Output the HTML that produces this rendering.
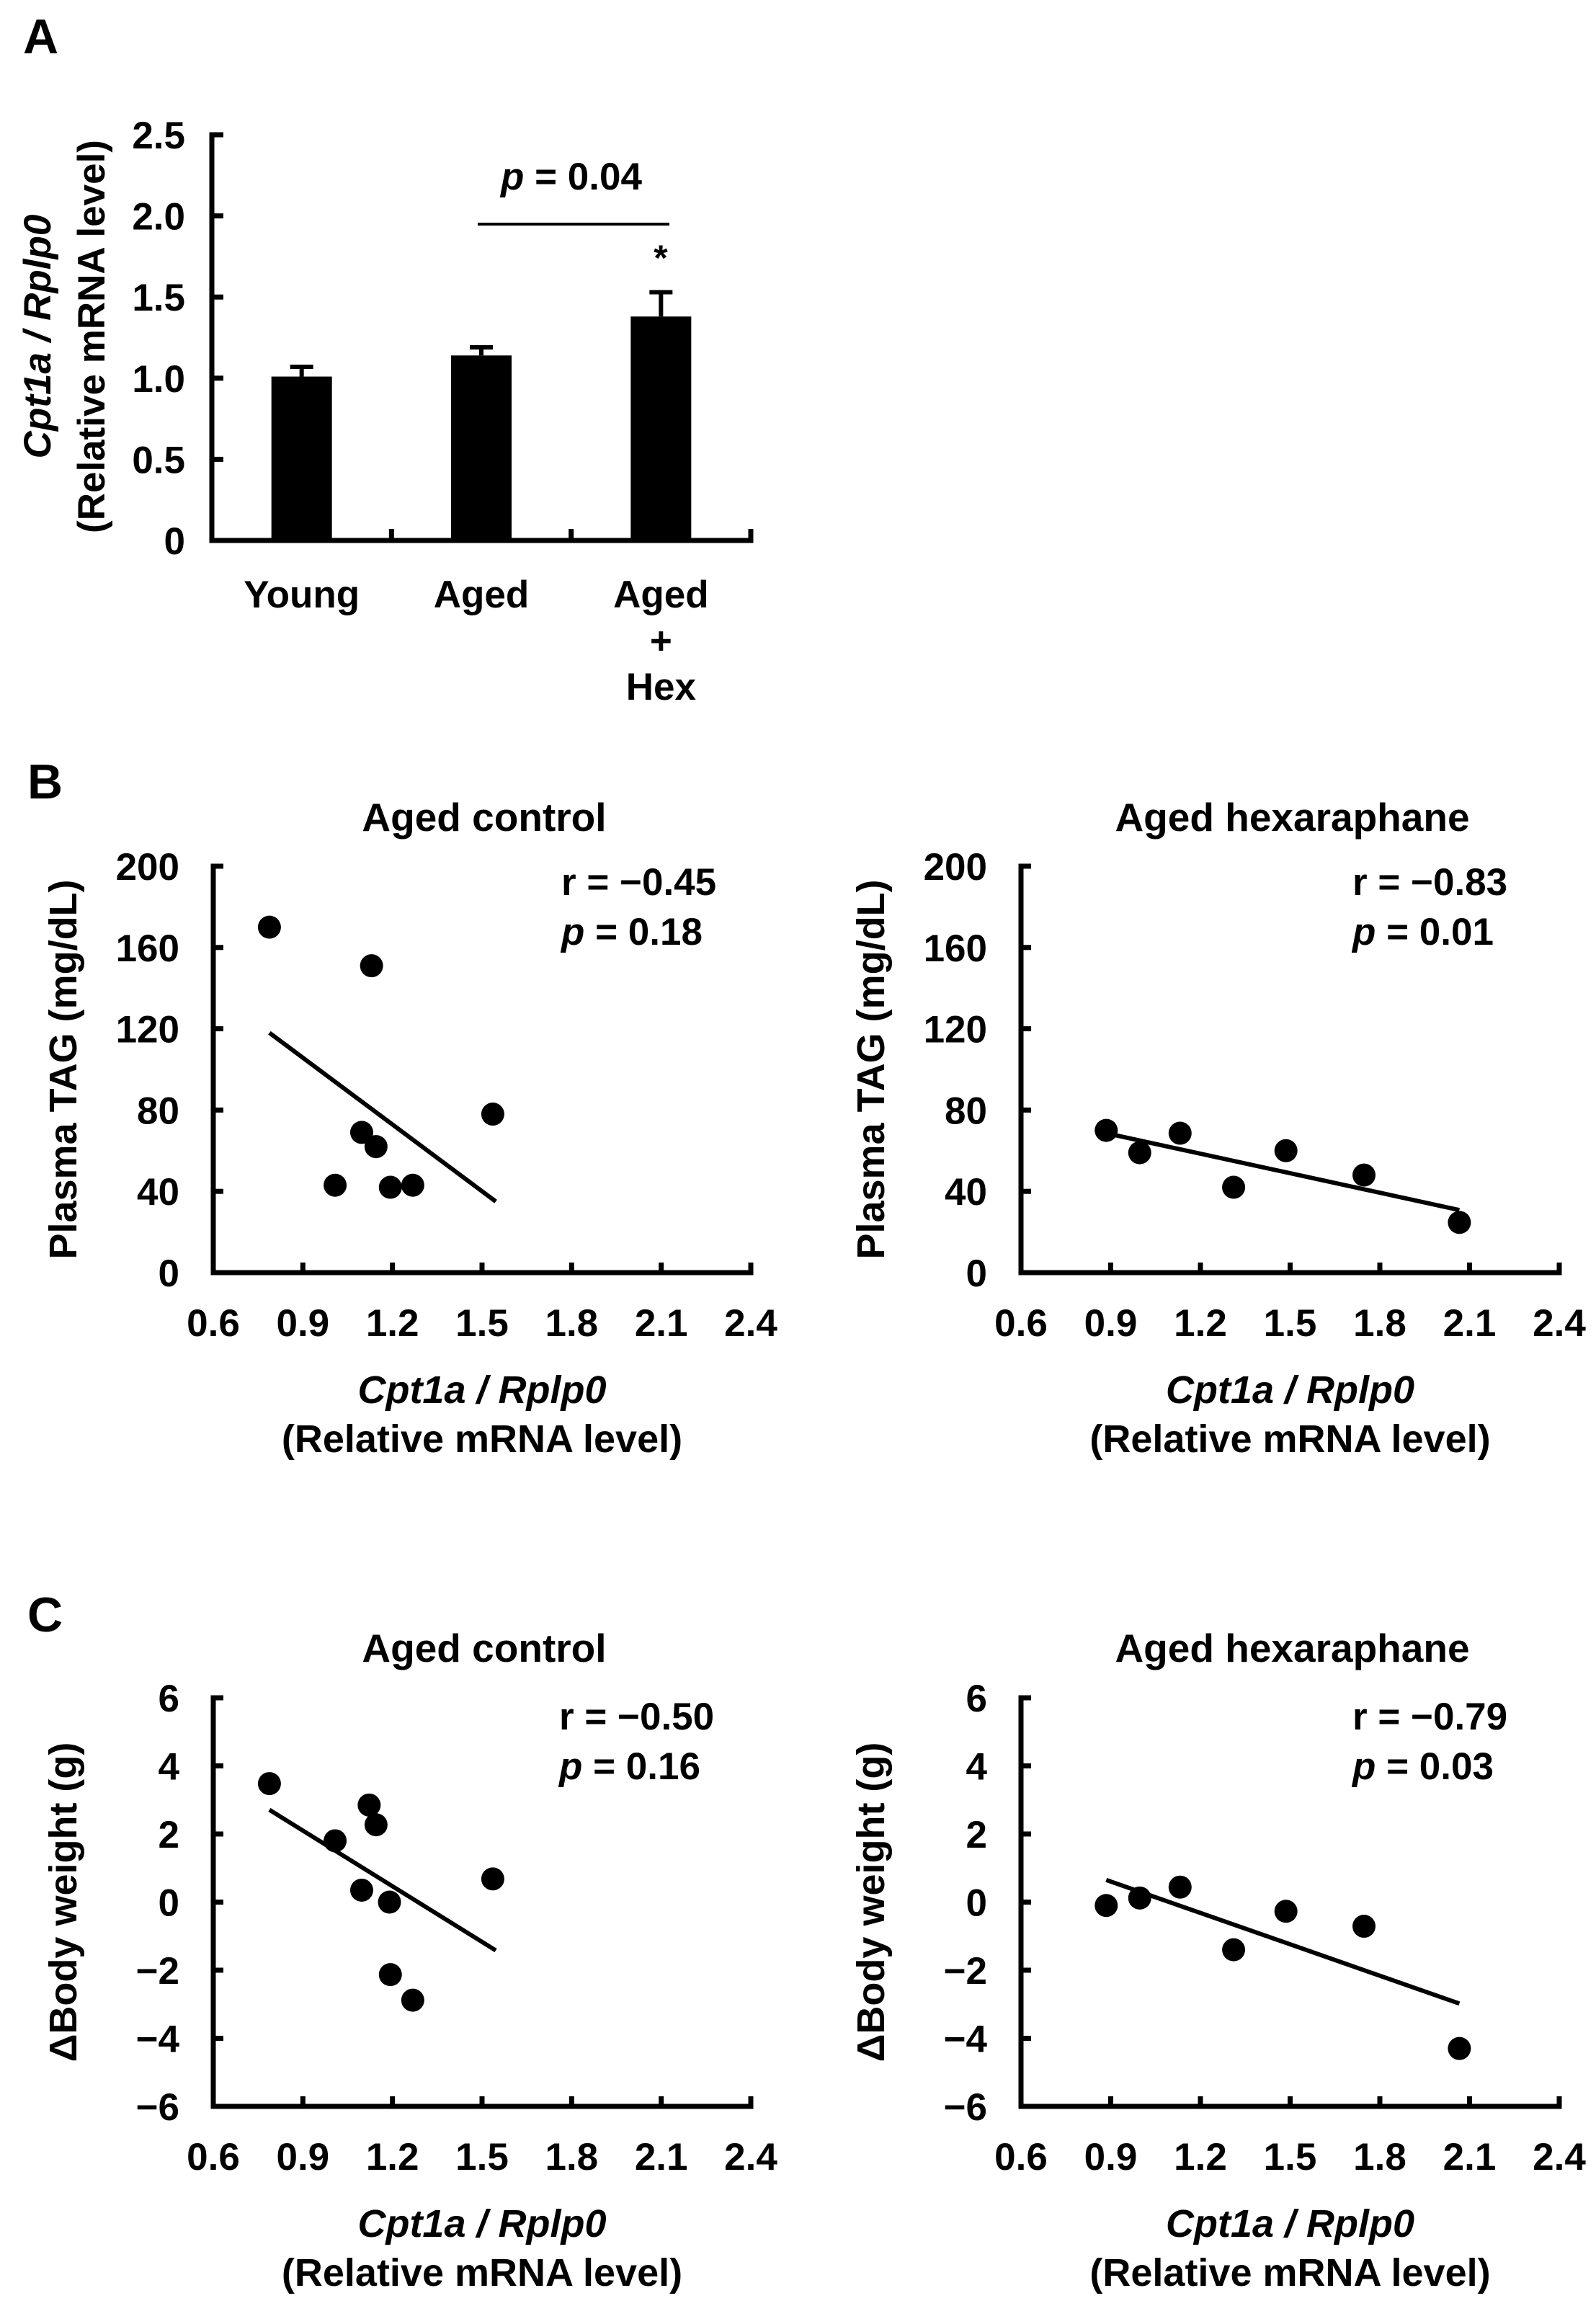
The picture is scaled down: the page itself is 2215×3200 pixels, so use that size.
<!DOCTYPE html>
<html><head><meta charset="utf-8"><style>
html,body{margin:0;padding:0;background:#fff}
svg{display:block}
text{font-family:"Liberation Sans",Arial,sans-serif;font-weight:bold;fill:#000}
</style></head><body>
<svg id="fig" width="2215" height="3200" viewBox="0 0 2215 3200" xmlns="http://www.w3.org/2000/svg">
<text x="32" y="74" font-size="68">A</text>
<text x="38" y="1108" font-size="68">B</text>
<text x="38" y="2264" font-size="68">C</text>
</svg>
<script>
// ---------- Panel A data ----------
const barCategories = ["Young", "Aged", "Aged+Hex"];
const barValues = [1.01, 1.14, 1.38];
const barErrors = [0.06, 0.05, 0.15];
const barTicks = ["0", "0.5", "1.0", "1.5", "2.0", "2.5"];

// ---------- Panel B data ----------
const bCtrlX = [0.788, 1.13, 1.097, 1.145, 1.008, 1.193, 1.268, 1.536];
const bCtrlY = [170, 151, 69, 62, 43, 42, 43, 78];
const bCtrlFit = [0.788, 118, 1.546, 35];
const bHexX = [0.885, 0.997, 1.132, 1.311, 1.486, 1.747, 2.066];
const bHexY = [70, 59, 68.6, 42, 60, 48, 24.7];
const bHexFit = [0.885, 68.6, 2.066, 30.8];
const bYTicks = [0, 40, 80, 120, 160, 200];

// ---------- Panel C data ----------
const cCtrlX = [0.788, 1.008, 1.122, 1.145, 1.097, 1.19, 1.193, 1.268, 1.536];
const cCtrlY = [3.48, 1.8, 2.85, 2.27, 0.35, 0.0, -2.13, -2.88, 0.68];
const cCtrlFit = [0.788, 2.71, 1.546, -1.42];
const cHexX = [0.885, 0.997, 1.132, 1.311, 1.486, 1.747, 2.066];
const cHexY = [-0.1, 0.12, 0.44, -1.4, -0.27, -0.71, -4.3];
const cHexFit = [0.885, 0.65, 2.066, -2.98];
const cYTicks = [-6, -4, -2, 0, 2, 4, 6];
const cYTickLabels = ["\u22126", "\u22124", "\u22122", "0", "2", "4", "6"];

const xTicks = [0.6, 0.9, 1.2, 1.5, 1.8, 2.1, 2.4];
const xTickLabels = ["0.6", "0.9", "1.2", "1.5", "1.8", "2.1", "2.4"];

const NS = "http://www.w3.org/2000/svg";
const svg = document.getElementById("fig");
function mk(tag, attrs, parent) {
  const e = document.createElementNS(NS, tag);
  for (const k in attrs) e.setAttribute(k, attrs[k]);
  (parent || svg).appendChild(e);
  return e;
}
function txt(s, attrs, parent) { const e = mk("text", attrs, parent); e.textContent = s; return e; }

// ---------- Panel A ----------
(function () {
  const g = mk("g", {});
  
  
  const x0 = 294, x1 = 1042, y0 = 750, yTop = 187, vmax = 2.5;
  const yS = v => y0 - (v / vmax) * (y0 - yTop);
  const band = (x1 - x0) / barCategories.length;
  const ax = mk("path", { d: `M${x0 + 16},${yTop} H${x0} V${y0} H${x1} V${y0 - 16}`, fill: "none", stroke: "#000", "stroke-width": 7 }, g);
  
  
  barTicks.forEach((t, i) => {
    const v = parseFloat(t), y = yS(v);
    mk("line", { x1: x0, x2: x0 + 16, y1: y, y2: y, stroke: "#000", "stroke-width": 7 }, g);
    const l = txt(t, { x: 257, y: y + 19, "font-size": 53, "text-anchor": "end" }, g);
    
    
  });
  for (let i = 1; i < barCategories.length; i++) {
    mk("line", { x1: x0 + band * i, x2: x0 + band * i, y1: y0, y2: y0 - 16, stroke: "#000", "stroke-width": 7 }, g);
  }
  barValues.forEach((v, i) => {
    const cx = x0 + band * (i + 0.5), w = 84;
    const et = yS(v + barErrors[i]);
    mk("line", { x1: cx, x2: cx, y1: yS(v), y2: et, stroke: "#000", "stroke-width": 6 }, g);
    mk("line", { x1: cx - 16, x2: cx + 16, y1: et, y2: et, stroke: "#000", "stroke-width": 6 }, g);
    const r = mk("rect", { x: cx - w / 2, y: yS(v), width: w, height: y0 - yS(v), fill: "#000" }, g);
    
    
  });
  const cl = [["Young"], ["Aged"], ["Aged", "+", "Hex"]];
  cl.forEach((lines, i) => {
    const cx = x0 + band * (i + 0.5);
    lines.forEach((s, j) => {
      const t = txt(s, { x: cx, y: 843 + j * 64, "font-size": 53, "text-anchor": "middle" }, g);
      
      
    });
  });
  mk("line", { x1: 663, x2: 929, y1: 311, y2: 311, stroke: "#000", "stroke-width": 4 }, g);
  const p = mk("text", { x: 793, y: 263, "font-size": 53, "text-anchor": "middle" }, g);
  p.innerHTML = '<tspan font-style="italic">p</tspan> = 0.04';
  
  
  const st = txt("*", { x: 917, y: 375, "font-size": 50, "text-anchor": "middle" }, g);
  
  
  const yt = mk("text", { transform: "translate(70,467) rotate(-90)", "font-size": 53, "text-anchor": "middle" }, g);
  yt.innerHTML = '<tspan font-style="italic">Cpt1a / Rplp0</tspan><tspan x="0" dy="75">(Relative mRNA level)</tspan>';
  
  
})();

// ---------- Scatter panels ----------
function scatter(o) {
  const g = mk("g", {});
  
  
  const { x0, x1, y0, yTop, ymin, ymax } = o;
  const xS = v => x0 + (v - 0.6) / 1.8 * (x1 - x0);
  const yS = v => y0 - (v - ymin) / (ymax - ymin) * (y0 - yTop);
  const cx = (x0 + x1) / 2;
  const ax = mk("path", { d: `M${x0 + 14},${yTop} H${x0} V${y0} H${x1} V${y0 - 14}`, fill: "none", stroke: "#000", "stroke-width": 7 }, g);
  
  
  o.yTicks.forEach((v, i) => {
    const y = yS(v);
    mk("line", { x1: x0, x2: x0 + 14, y1: y, y2: y, stroke: "#000", "stroke-width": 7 }, g);
    const l = txt(o.yLabels[i], { x: x0 - 47, y: y + 19, "font-size": 53, "text-anchor": "end" }, g);
    
    
  });
  xTicks.forEach((v, i) => {
    const x = xS(v);
    mk("line", { x1: x, x2: x, y1: y0, y2: y0 - 14, stroke: "#000", "stroke-width": 7 }, g);
    const l = txt(xTickLabels[i], { x: x, y: y0 + 88, "font-size": 53, "text-anchor": "middle" }, g);
    
    
  });
  const f = o.fit;
  const ln = mk("line", { x1: xS(f[0]), y1: yS(f[1]), x2: xS(f[2]), y2: yS(f[3]), stroke: "#000", "stroke-width": 6 }, g);
  
  
  o.xs.forEach((v, i) => {
    const c = mk("circle", { cx: xS(v), cy: yS(o.ys[i]), r: 16, fill: "#000" }, g);
    
    
  });
  const t = txt(o.title, { x: cx + 3, y: o.titleY, "font-size": 55, "text-anchor": "middle" }, g);
  
  
  const r = txt("r = \u2212" + o.r, { x: o.rx, y: o.rY, "font-size": 53 }, g);
  
  
  const p = mk("text", { x: o.rx, y: o.rY + 69, "font-size": 53 }, g);
  p.innerHTML = '<tspan font-style="italic">p</tspan> = ' + o.p;
  
  
  const xt = mk("text", { x: cx, y: y0 + 181, "font-size": 54, "text-anchor": "middle" }, g);
  xt.innerHTML = '<tspan font-style="italic">Cpt1a / Rplp0</tspan><tspan x="' + cx + '" dy="68">(Relative mRNA level)</tspan>';
  
  
  const yt = txt(o.yTitle, { transform: `translate(${x0 - 190},${(y0 + yTop) / 2}) rotate(-90)`, "font-size": 54, "text-anchor": "middle" }, g);
  
  
}
const bYLabels = bYTicks.map(String);
scatter({ name: "scatter-b-aged-control", x0: 296, x1: 1042, y0: 1766, yTop: 1202, ymin: 0, ymax: 200, yTicks: bYTicks, yLabels: bYLabels,
  xs: bCtrlX, ys: bCtrlY, fit: bCtrlFit, title: "Aged control", titleY: 1153, r: "0.45", p: "0.18", rx: 779, rY: 1242, yTitle: "Plasma TAG (mg/dL)" });
scatter({ name: "scatter-b-aged-hexaraphane", x0: 1417, x1: 2164, y0: 1766, yTop: 1202, ymin: 0, ymax: 200, yTicks: bYTicks, yLabels: bYLabels,
  xs: bHexX, ys: bHexY, fit: bHexFit, title: "Aged hexaraphane", titleY: 1153, r: "0.83", p: "0.01", rx: 1877, rY: 1242, yTitle: "Plasma TAG (mg/dL)" });
scatter({ name: "scatter-c-aged-control", x0: 296, x1: 1042, y0: 2923, yTop: 2356, ymin: -6, ymax: 6, yTicks: cYTicks, yLabels: cYTickLabels,
  xs: cCtrlX, ys: cCtrlY, fit: cCtrlFit, title: "Aged control", titleY: 2306, r: "0.50", p: "0.16", rx: 776, rY: 2400, yTitle: "\u0394Body weight (g)" });
scatter({ name: "scatter-c-aged-hexaraphane", x0: 1417, x1: 2164, y0: 2923, yTop: 2356, ymin: -6, ymax: 6, yTicks: cYTicks, yLabels: cYTickLabels,
  xs: cHexX, ys: cHexY, fit: cHexFit, title: "Aged hexaraphane", titleY: 2306, r: "0.79", p: "0.03", rx: 1877, rY: 2400, yTitle: "\u0394Body weight (g)" });
</script>
</body></html>
